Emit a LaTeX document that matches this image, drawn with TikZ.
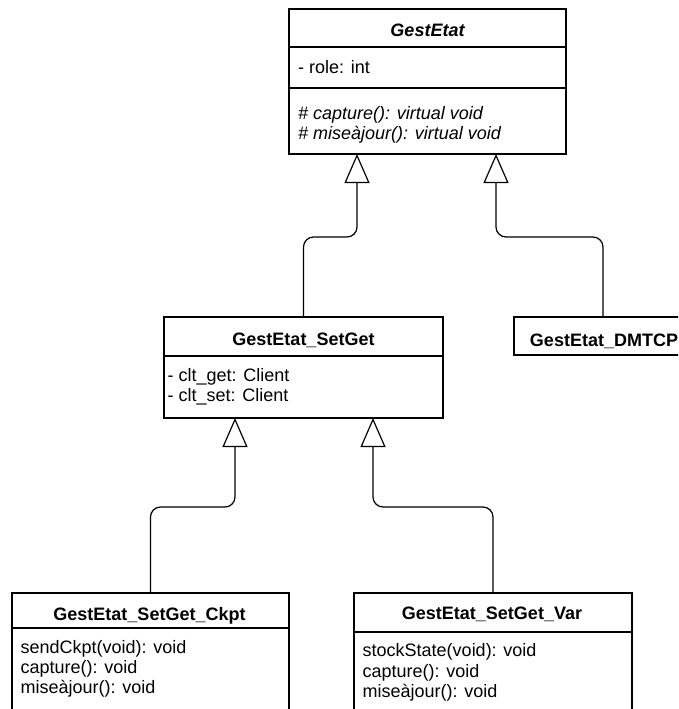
\documentclass[tikz,border=0pt]{standalone}
\usepackage{fontspec}
\setmainfont{Liberation Sans}
\usetikzlibrary{arrows.meta,calc}
\begin{document}
\begin{tikzpicture}[x=1pt,y=-1pt,
  comp/.style={draw=black, line width=1.2pt, inner sep=0pt, outer sep=0pt, anchor=north west, fill=white},
  ttl/.style={anchor=base, inner sep=0pt, font=\bfseries\fontsize{18}{20}\selectfont},
  ttli/.style={anchor=base, inner sep=0pt, font=\bfseries\itshape\fontsize{18}{20}\selectfont},
  txt/.style={anchor=base west, inner sep=0pt, font=\fontsize{18}{20}\selectfont},
  txti/.style={anchor=base west, inner sep=0pt, font=\itshape\fontsize{18}{20}\selectfont},
  inh/.style={draw=black, line width=1.2pt, rounded corners=10pt, -{Triangle[open,length=29pt,width=25pt]}}]

\clip (0,0) rectangle (678,709);
\fill[white] (0,0) rectangle (678,709);

% GestEtat
\node[comp, minimum width=277pt, minimum height=38pt] (get) at (289,9) {};
\node[comp, minimum width=277pt, minimum height=41pt] (gea) at (289,47) {};
\node[comp, minimum width=277pt, minimum height=66pt] (gem) at (289,88) {};
\node[ttli] (getx) at (427.5,37) {GestEtat};
\node[txt] (gea1) at (298,74) {- role: int};
\node[txti] (gem1) at (298,119) {\# capture(): virtual void};
\node[txti] (gem2) at (298,139) {\# miseàjour(): virtual void};

% GestEtat_SetGet
\node[comp, minimum width=279pt, minimum height=39pt] (sgt) at (164,317) {};
\node[comp, minimum width=279pt, minimum height=62pt] (sgm) at (164,356) {};
\node[ttl] (sgtx) at (303.5,345) {GestEtat\_SetGet};
\node[txt] (sga1) at (167.5,381) {- clt\_get: Client};
\node[txt] (sga2) at (167.5,401) {- clt\_set: Client};

% GestEtat_DMTCP
\node[comp, minimum width=178pt, minimum height=38pt] (dm) at (514,317) {};
\node[ttl] (dmx) at (604,346) {GestEtat\_DMTCP};

% GestEtat_SetGet_Ckpt
\node[comp, minimum width=277pt, minimum height=35pt] (ckt) at (12,593) {};
\node[comp, minimum width=277pt, minimum height=120pt] (ckm) at (12,628) {};
\node[ttl] (cktx) at (149.5,620) {GestEtat\_SetGet\_Ckpt};
\node[txt] (ckm1) at (20.5,653) {sendCkpt(void): void};
\node[txt] (ckm2) at (20.5,673) {capture(): void};
\node[txt] (ckm3) at (20.5,693) {miseàjour(): void};

% GestEtat_SetGet_Var
\node[comp, minimum width=278pt, minimum height=39pt] (vat) at (354,593) {};
\node[comp, minimum width=278pt, minimum height=120pt] (vam) at (354,632) {};
\node[ttl] (vatx) at (492,619) {GestEtat\_SetGet\_Var};
\node[txt] (vam1) at (362.5,656) {stockState(void): void};
\node[txt] (vam2) at (362.5,677) {capture(): void};
\node[txt] (vam3) at (362.5,697) {miseàjour(): void};

% inheritance connectors
\draw[inh] (sgt.north) -- ++(0,-80) -| ($(gem.south west)+(68,0)$);
\draw[inh] (dm.north) -- ++(0,-80) -| ($(gem.south east)+(-70,0)$);
\draw[inh] (ckt.north) -- ++(0,-86) -| ($(sgm.south west)+(71,0)$);
\draw[inh] (vat.north) -- ++(0,-86) -| ($(sgm.south east)+(-70,0)$);
\end{tikzpicture}
\end{document}
